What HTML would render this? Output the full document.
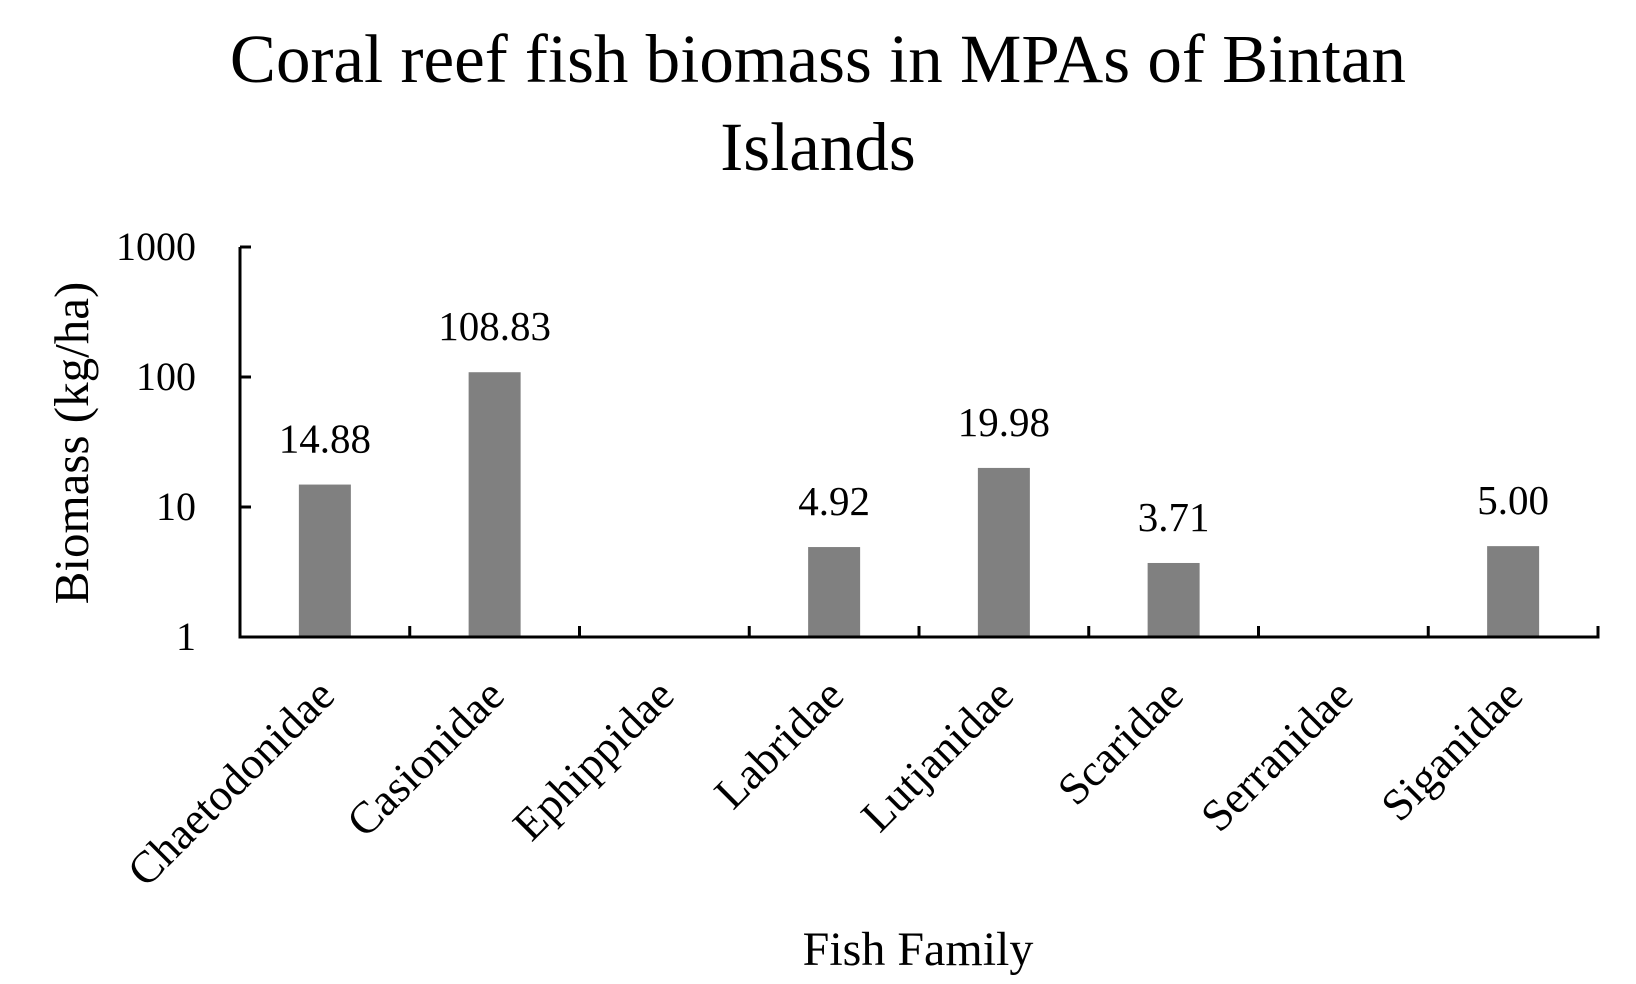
<!DOCTYPE html>
<html><head><meta charset="utf-8"><style>
body{margin:0;background:#fff}
svg{display:block;font-family:"Liberation Serif",serif}
</style></head><body>
<svg id="chart" width="1636" height="984" viewBox="0 0 1636 984">
<text x="818" y="82" font-size="69" text-anchor="middle">Coral reef fish biomass in MPAs of Bintan</text>
<text x="818" y="170" font-size="69" text-anchor="middle">Islands</text>
<text transform="translate(88,443) rotate(-90)" font-size="49" text-anchor="middle">Biomass (kg/ha)</text>
<text x="918" y="965" font-size="48" text-anchor="middle">Fish Family</text>
<g id="plot"></g>
</svg>
<script>
const categories=["Chaetodonidae","Casionidae","Ephippidae","Labridae","Lutjanidae","Scaridae","Serranidae","Siganidae"];
const values=[14.88,108.83,null,4.92,19.98,3.71,null,5.00];
const valueLabels=["14.88","108.83","","4.92","19.98","3.71","","5.00"];
const yTicks=[1,10,100,1000];
const yTickLabels=["1","10","100","1000"];

const NS="http://www.w3.org/2000/svg";
const g=document.getElementById('plot');
const x0=240,x1=1598,yBase=637,decade=130,barW=52;
const band=(x1-x0)/categories.length;
function xC(i){return x0+band*(i+0.5);}
function yS(v){return yBase-decade*Math.log10(v);}
function mk(t,a,p){const e=document.createElementNS(NS,t);for(const k in a)e.setAttribute(k,a[k]);(p||g).appendChild(e);return e;}

values.forEach((v,i)=>{
  if(v==null||v<=1)return;
  const r=mk('rect',{x:xC(i)-barW/2,y:yS(v),width:barW,height:yBase-yS(v),fill:'#808080'});
  
  
  const t=mk('text',{x:xC(i),y:yS(v)-32,'font-size':41,'text-anchor':'middle'});
  t.textContent=valueLabels[i];
  
  
});

const ya=mk('line',{x1:x0,y1:yS(1000),x2:x0,y2:yBase+1.5,stroke:'#000','stroke-width':3});


const xa=mk('line',{x1:x0-1.5,y1:yBase,x2:x1+1.5,y2:yBase,stroke:'#000','stroke-width':3});



yTicks.forEach((v,i)=>{
  const l=mk('line',{x1:x0,y1:yS(v),x2:x0+11,y2:yS(v),stroke:'#000','stroke-width':3});
  
  
  const t=mk('text',{x:196,y:yS(v)+13,'font-size':40,'text-anchor':'end'});
  t.textContent=yTickLabels[i];
  
  
});

for(let i=1;i<=categories.length;i++){
  const xx=x0+band*i;
  const l=mk('line',{x1:xx,y1:yBase,x2:xx,y2:yBase-11,stroke:'#000','stroke-width':3});
  
  
}

categories.forEach((c,i)=>{
  const ax=xC(i)+12,ay=698;
  const t=mk('text',{x:ax,y:ay,'font-size':45,'text-anchor':'end',transform:`rotate(-45 ${ax} ${ay})`});
  t.textContent=c;
  
  
});
</script>
</body></html>
